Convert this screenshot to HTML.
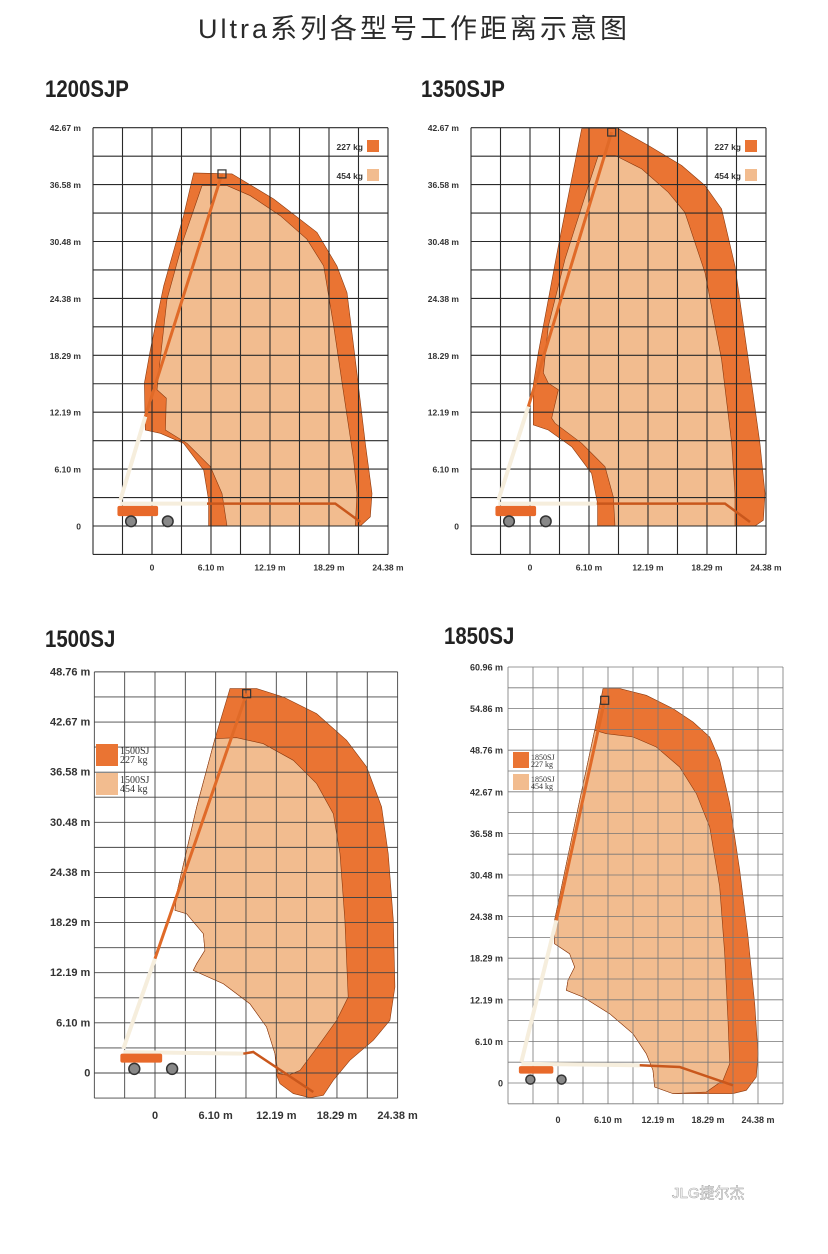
<!DOCTYPE html>
<html><head><meta charset="utf-8">
<style>
html,body{margin:0;padding:0;background:#fff;}
body{width:828px;height:1254px;overflow:hidden;position:relative;font-family:"Liberation Sans","Noto Sans CJK SC",sans-serif;}
#title{position:absolute;left:0;top:7px;width:828px;text-align:center;font-size:27px;color:#2a2a2a;letter-spacing:3px;font-family:"Liberation Sans","Noto Sans CJK SC",sans-serif;}
svg{position:absolute;left:0;top:0;}
</style></head>
<body>
<div id="title">Ultra系列各型号工作距离示意图</div>
<svg id="chart" width="828" height="1254"></svg>
<script>
// ---- data (meters) ----
const yTicks1 = ["0","6.10 m","12.19 m","18.29 m","24.38 m","30.48 m","36.58 m","42.67 m"];
const yTicks3 = ["0","6.10 m","12.19 m","18.29 m","24.38 m","30.48 m","36.58 m","42.67 m","48.76 m"];
const yTicks4 = ["0","6.10 m","12.19 m","18.29 m","24.38 m","30.48 m","36.58 m","42.67 m","48.76 m","54.86 m","60.96 m"];
const xTicks = ["0","6.10 m","12.19 m","18.29 m","24.38 m"];
const modelNames = ["1200SJP","1350SJP","1500SJ","1850SJ"];

const env227_1200 = [[5.85,0],[5.85,2.76],[5.34,5.99],[3.27,8.86],[0.86,9.93],[-0.69,10.29],[-0.79,15.31],[-0.17,18.9],[1.21,25.71],[3.27,33.24],[4.31,37.83],[8.27,37.72],[12.57,35.03],[17.05,31.45],[19.11,27.86],[20.15,24.99],[21.01,17.82],[22.04,8.86],[22.73,3.48],[22.56,0.97],[21.53,0]];
const env454_1200 = [[7.75,0],[7.23,3.48],[6.03,6.35],[3.62,8.86],[1.38,10.29],[1.48,13.7],[0.52,14.6],[0.69,16.39],[1.55,24.28],[3.27,30.73],[5.17,36.47],[7.75,36.47],[10.16,35.39],[13.26,33.24],[16.01,30.73],[17.74,27.86],[18.77,21.41],[19.8,14.24],[20.84,7.06],[21.18,3.48],[21.01,0]];
const boom_1200 = [[-3.27,2.76],[-0.69,11.73],[7.23,37.72]];
const arm_1200 = [[-3.27,2.4],[5.68,2.4],[18.94,2.4],[21.53,0.43]];

const env227_1350 = [[6.99,0],[6.99,2.4],[6.37,5.63],[4.31,8.5],[1.89,10.29],[0.34,10.83],[0.34,15.13],[0.86,18.54],[2.93,30.02],[5.34,42.57],[9.13,42.57],[12.23,40.77],[15.67,38.62],[18.08,36.47],[19.8,33.96],[21.18,27.86],[22.56,17.82],[23.76,8.86],[24.28,3.48],[24.11,0.61],[23.25,0]];
const env454_1350 = [[8.78,0],[8.61,3.12],[7.75,6.35],[5.34,8.86],[2.58,11.01],[2.24,11.55],[2.93,14.6],[1.89,15.31],[1.38,16.39],[1.89,21.41],[3.62,28.58],[6.03,36.47],[7.06,39.7],[8.78,39.7],[11.54,38.26],[14.29,35.75],[16.01,33.6],[18.08,27.15],[19.8,17.82],[20.84,8.86],[21.18,3.48],[21.18,0]];
const boom_1350 = [[-3.27,2.76],[-0.17,12.8],[8.44,42.21]];
const arm_1350 = [[-3.27,2.4],[6.89,2.4],[20.15,2.4],[22.73,0.43]];

const env227_1500 = [[7.54,46.73],[10.21,46.73],[12.89,45.72],[16.24,43.69],[19.26,40.45],[21.27,37.21],[22.77,32.34],[23.44,26.67],[23.95,18.56],[24.11,10.46],[23.61,6.4],[21.94,3.97],[19.59,1.54],[17.92,-0.89],[16.91,-2.72],[15.57,-3.0],[13.9,-2.51],[12.56,-1.3],[12.22,-0.28],[12.06,2.35],[11.22,5.59],[9.54,8.43],[6.87,10.86],[3.85,12.48],[4.19,13.29],[5.02,14.91],[4.86,16.94],[3.18,19.37],[2.01,19.78],[2.18,21.81],[4.19,32.34],[6.03,40.65]];
const env454_1500 = [[6.03,40.65],[8.2,40.77],[10.88,40.04],[13.9,38.02],[16.24,35.18],[17.92,31.53],[18.59,26.67],[19.09,18.56],[19.42,9.24],[18.25,6.4],[16.58,3.57],[14.57,0.32],[13.4,-0.28],[12.39,-0.08],[12.06,2.35],[11.22,5.59],[9.54,8.43],[6.87,10.86],[3.85,12.48],[4.19,13.29],[5.02,14.91],[4.86,16.94],[3.18,19.37],[2.01,19.78],[2.18,21.81],[4.19,32.34]];
const boom_1500 = [[-3.18,2.96],[0,13.9],[9.21,46.12]];
const arm_1500 = [[-3.18,2.55],[8.87,2.35],[9.88,2.55],[15.91,-2.31]];

const env227_1850 = [[5.49,57.79],[7.52,57.79],[10.77,56.81],[14.02,54.86],[16.46,52.9],[18.49,50.71],[19.71,47.29],[20.93,40.94],[22.15,31.17],[23.16,21.4],[23.98,11.63],[24.38,4.3],[24.18,0.88],[22.96,-1.07],[21.34,-1.56],[18.08,-1.56],[14.02,-1.56],[11.79,-0.59],[11.58,1.86],[10.77,4.3],[9.14,7.23],[6.3,10.16],[3.05,12.6],[1.02,13.58],[1.22,15.05],[2.03,17.0],[1.42,18.95],[-0.41,20.42],[-0.41,23.84],[1.02,32.14],[2.64,41.42],[4.47,51.68]];
const env454_1850 = [[4.47,51.68],[5.89,51.19],[9.14,50.71],[11.99,49.24],[14.83,46.31],[16.87,42.4],[18.49,37.52],[19.71,28.72],[20.32,18.95],[20.73,9.18],[20.93,2.83],[20.12,0.39],[18.08,-1.32],[14.02,-1.56],[11.79,-0.59],[11.58,1.86],[10.77,4.3],[9.14,7.23],[6.3,10.16],[3.05,12.6],[1.02,13.58],[1.22,15.05],[2.03,17.0],[1.42,18.95],[-0.41,20.42],[-0.41,23.84],[1.02,32.14],[2.64,41.42]];
const boom_1850 = [[-4.47,3.08],[-0.2,23.84],[5.69,56.08]];
const arm_1850 = [[-4.47,2.83],[9.96,2.59],[14.83,2.34],[21.34,-0.34]];

// ---- rendering ----
const NS = "http://www.w3.org/2000/svg";
const svg = document.getElementById("chart");
const C227 = "#ea7433", C454 = "#f2bc8f", CREAM = "#f6eedd";

function mk(tag, attrs, parent){
  const e = document.createElementNS(NS, tag);
  for (const k in attrs) e.setAttribute(k, attrs[k]);
  (parent || svg).appendChild(e);
  return e;
}

function panel(cfg){
  const g = mk("g", {});
  
  
  const X = m => cfg.x0 + m * cfg.sx;
  const Y = m => cfg.y0 - m * cfg.sy;
  const pts = arr => arr.map(p => X(p[0]).toFixed(1) + "," + Y(p[1]).toFixed(1)).join(" ");
  const U = 3.048;

  const t = mk("text", {x: cfg.titleX, y: cfg.titleY, "font-size": cfg.titleSize, "font-weight": "bold", fill: "#222",
    "font-family": "Liberation Sans, sans-serif", transform: `translate(${cfg.titleX},0) scale(0.85,1) translate(${-cfg.titleX},0)`}, g);
  t.textContent = cfg.name;
  
  

  const a = mk("polygon", {points: pts(cfg.env227), fill: C227, stroke: "#8a3a10", "stroke-width": 0.6}, g);
  
  
  const b = mk("polygon", {points: pts(cfg.env454), fill: C454, stroke: "#8a3a10", "stroke-width": 0.6}, g);
  
  

  const xl = X(cfg.cMin * U), xr = X(cfg.cMax * U), yt = Y(cfg.rMax * U), yb = Y(cfg.rMin * U);
  for (let c = cfg.cMin; c <= cfg.cMax; c++){
    const l = mk("line", {x1: X(c*U), x2: X(c*U), y1: yt, y2: yb, stroke: cfg.gridColor, "stroke-width": cfg.gridW}, g);
    
    
  }
  for (let r = cfg.rMin; r <= cfg.rMax; r++){
    const l = mk("line", {x1: xl, x2: xr, y1: Y(r*U), y2: Y(r*U), stroke: cfg.gridColor, "stroke-width": cfg.gridW}, g);
    
    
  }

  const lb = mk("line", {x1: X(cfg.boom[0][0]), y1: Y(cfg.boom[0][1]), x2: X(cfg.boom[1][0]), y2: Y(cfg.boom[1][1]), stroke: CREAM, "stroke-width": 4}, g);
  
  
  const ub = mk("line", {x1: X(cfg.boom[1][0]), y1: Y(cfg.boom[1][1]), x2: X(cfg.boom[2][0]), y2: Y(cfg.boom[2][1]), stroke: "#e06a28", "stroke-width": 3}, g);
  
  
  const hb = mk("line", {x1: X(cfg.arm[0][0]), y1: Y(cfg.arm[0][1]), x2: X(cfg.arm[1][0]), y2: Y(cfg.arm[1][1]), stroke: CREAM, "stroke-width": 4}, g);
  
  
  const hb2 = mk("polyline", {points: pts(cfg.arm.slice(1)), fill: "none", stroke: "#c9571c", "stroke-width": 2.5}, g);
  
  
  const bx = cfg.boom[0][0];
  const ch = mk("rect", {x: X(bx - 0.3), y: Y(cfg.boom[0][1] - 0.6), width: 4.2*cfg.sx, height: 1.1*cfg.sy, fill: "#e8692a", rx: 2}, g);
  
  
  [1.1, 4.9].forEach(d => {
    const w = mk("circle", {cx: X(bx + d), cy: Y(0.5), r: 0.55*cfg.sx, fill: "#888", stroke: "#333", "stroke-width": 1.5}, g);
    
    
  });
  const pl = mk("rect", {x: X(cfg.boom[2][0]) - 4, y: Y(cfg.boom[2][1]) - 4, width: 8, height: 8, fill: "none", stroke: "#333", "stroke-width": 1.2}, g);
  
  

  cfg.yTicks.forEach((s, i) => {
    const tx = mk("text", {x: xl - cfg.labGap, y: Y(i*2*U) + 3.5, "text-anchor": "end", "font-size": cfg.labSize, "font-weight": "bold", fill: "#333"}, g);
    tx.textContent = s;
    
    
  });
  xTicks.forEach((s, i) => {
    const tx = mk("text", {x: X(i*2*U), y: yb + cfg.xLabGap, "text-anchor": "middle", "font-size": cfg.labSize, "font-weight": "bold", fill: "#333"}, g);
    tx.textContent = s;
    
    
  });
  cfg.legend(g);
}

function smallLegend(ox){
  return g => {
    [["227 kg", C227, 147], ["454 kg", C454, 176]].forEach(l => {
      const r = mk("rect", {x: ox + 27, y: l[2] - 7, width: 12, height: 12, fill: l[1]}, g);
      
      
      const tx = mk("text", {x: ox + 23, y: l[2] + 3, "text-anchor": "end", "font-size": 8.5, "font-weight": "bold", fill: "#333"}, g);
      tx.textContent = l[0];
      
      
    });
  };
}
function boxLegend(x, y1, y2, w, name, fs){
  return g => {
    [["227 kg", C227, y1], ["454 kg", C454, y2]].forEach(l => {
      const r = mk("rect", {x: x, y: l[2], width: w, height: w, fill: l[1]}, g);
      
      
      const t1 = mk("text", {x: x + w + 2, y: l[2] + fs, "font-size": fs, fill: "#333", "font-family": "Liberation Serif, serif"}, g);
      t1.textContent = name;
      
      
      const t2 = mk("text", {x: x + w + 2, y: l[2] + 2*fs - 1, "font-size": fs, fill: "#333", "font-family": "Liberation Serif, serif"}, g);
      t2.textContent = l[0];
      
      
    });
  };
}

const base12 = {sx: 9.678, sy: 9.334, y0: 526, cMin: -2, cMax: 8, rMin: -1, rMax: 14, gridColor: "#2a2a2a", gridW: 1.1,
  yTicks: yTicks1, labSize: 8.5, labGap: 12, xLabGap: 16, titleY: 97, titleSize: 24};
panel(Object.assign({}, base12, {name: modelNames[0], x0: 152, env227: env227_1200, env454: env454_1200, boom: boom_1200, arm: arm_1200, titleX: 45, legend: smallLegend(340)}));
panel(Object.assign({}, base12, {name: modelNames[1], x0: 530, env227: env227_1350, env454: env454_1350, boom: boom_1350, arm: arm_1350, titleX: 421, legend: smallLegend(718)}));
panel({name: modelNames[2], x0: 155, sx: 9.95, y0: 1073, sy: 8.225, cMin: -2, cMax: 8, rMin: -1, rMax: 16, gridColor: "#444", gridW: 0.9,
  yTicks: yTicks3, labSize: 11, labGap: 4, xLabGap: 21, titleX: 45, titleY: 647, titleSize: 24,
  env227: env227_1500, env454: env454_1500, boom: boom_1500, arm: arm_1500, legend: boxLegend(96, 744, 773, 22, "1500SJ", 10)});
panel({name: modelNames[3], x0: 558, sx: 8.202, y0: 1083, sy: 6.824, cMin: -2, cMax: 9, rMin: -1, rMax: 20, gridColor: "#777", gridW: 0.8,
  yTicks: yTicks4, labSize: 9, labGap: 5, xLabGap: 19, titleX: 444, titleY: 644, titleSize: 24,
  env227: env227_1850, env454: env454_1850, boom: boom_1850, arm: arm_1850, legend: boxLegend(513, 752, 774, 16, "1850SJ", 8)});

const wm = mk("text", {x: 672, y: 1198, "font-size": 15, fill: "#fff", "fill-opacity": 0.85, stroke: "#aaa", "stroke-width": 0.6, "font-family": "Liberation Sans, Noto Sans CJK SC, sans-serif"});
wm.textContent = "JLG捷尔杰";


</script>
</body></html>
